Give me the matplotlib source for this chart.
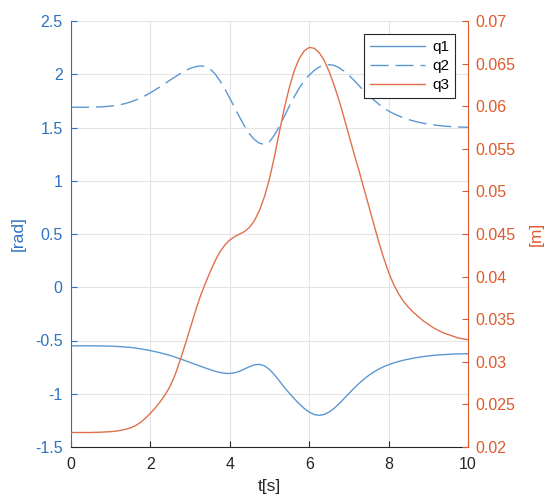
import matplotlib
matplotlib.use("Agg")
import matplotlib.pyplot as plt

t = [0.0, 0.125, 0.25, 0.375, 0.5, 0.625, 0.75, 0.875, 1.0, 1.125, 1.25, 1.375,
     1.5, 1.625, 1.75, 1.875, 2.0, 2.125, 2.25, 2.375, 2.5, 2.625, 2.75, 2.875,
     3.0, 3.125, 3.25, 3.375, 3.5, 3.625, 3.75, 3.875, 4.0, 4.125, 4.25, 4.375,
     4.5, 4.625, 4.75, 4.875, 5.0, 5.125, 5.25, 5.375, 5.5, 5.625, 5.75, 5.875,
     6.0, 6.125, 6.25, 6.375, 6.5, 6.625, 6.75, 6.875, 7.0, 7.125, 7.25, 7.375,
     7.5, 7.625, 7.75, 7.875, 8.0, 8.125, 8.25, 8.375, 8.5, 8.625, 8.75, 8.875,
     9.0, 9.125, 9.25, 9.375, 9.5, 9.625, 9.75, 9.875, 10.0]

q1 = [-0.550, -0.550, -0.550, -0.550, -0.550, -0.551, -0.551, -0.552, -0.553,
      -0.555, -0.558, -0.561, -0.565, -0.571, -0.578, -0.586, -0.595, -0.605,
      -0.616, -0.628, -0.641, -0.656, -0.672, -0.689, -0.706, -0.723, -0.740,
      -0.757, -0.773, -0.788, -0.800, -0.808, -0.810, -0.803, -0.788, -0.767,
      -0.745, -0.728, -0.724, -0.738, -0.772, -0.822, -0.880, -0.940, -0.995,
      -1.047, -1.095, -1.138, -1.172, -1.195, -1.203, -1.195, -1.172, -1.138,
      -1.095, -1.047, -0.998, -0.950, -0.905, -0.864, -0.828, -0.796, -0.769,
      -0.746, -0.727, -0.711, -0.697, -0.685, -0.675, -0.666, -0.658, -0.651,
      -0.645, -0.640, -0.636, -0.633, -0.630, -0.628, -0.626, -0.625, -0.624]

q2 = [1.690, 1.690, 1.690, 1.690, 1.691, 1.692, 1.694, 1.697, 1.701, 1.707,
      1.715, 1.726, 1.740, 1.757, 1.777, 1.800, 1.826, 1.854, 1.884, 1.915,
      1.946, 1.976, 2.005, 2.032, 2.055, 2.070, 2.078, 2.074, 2.050, 2.005,
      1.940, 1.862, 1.775, 1.685, 1.595, 1.510, 1.438, 1.385, 1.352, 1.342,
      1.365, 1.430, 1.510, 1.605, 1.700, 1.790, 1.870, 1.940, 1.992, 2.035,
      2.068, 2.086, 2.090, 2.083, 2.062, 2.030, 1.990, 1.945, 1.895, 1.845,
      1.800, 1.760, 1.720, 1.685, 1.655, 1.630, 1.610, 1.590, 1.575, 1.562,
      1.550, 1.540, 1.532, 1.525, 1.519, 1.514, 1.510, 1.507, 1.505, 1.503, 1.502]

q3 = [0.0217, 0.0217, 0.0217, 0.0217, 0.0217, 0.02172, 0.02174, 0.02177, 0.02180,
      0.02186, 0.02195, 0.02208, 0.02225, 0.02250, 0.02288, 0.02338, 0.02395,
      0.02460, 0.02533, 0.02617, 0.02715, 0.0285, 0.0302, 0.0320, 0.0339, 0.0358,
      0.0376, 0.0391, 0.0405, 0.0418, 0.0429, 0.0437, 0.0443, 0.0447, 0.0450,
      0.0453, 0.0458, 0.0466, 0.0478, 0.0494, 0.0515, 0.0541, 0.0570, 0.0598,
      0.0622, 0.0642, 0.0656, 0.0665, 0.0669, 0.0668, 0.0663, 0.0654, 0.0641,
      0.0625, 0.0607, 0.0587, 0.0566, 0.0545, 0.0525, 0.0504, 0.0483, 0.0462,
      0.0441, 0.0422, 0.0405, 0.0391, 0.0380, 0.0371, 0.0364, 0.0358, 0.0353,
      0.0348, 0.0344, 0.0340, 0.0337, 0.0334, 0.0332, 0.0330, 0.0328, 0.0327,
      0.0326]

labels = ["q1", "q2", "q3"]
xticks = [0, 2, 4, 6, 8, 10]
yticks_left = [-1.5, -1, -0.5, 0, 0.5, 1, 1.5, 2, 2.5]
yticks_right = [0.02, 0.025, 0.03, 0.035, 0.04, 0.045, 0.05, 0.055, 0.06, 0.065, 0.07]

BLUE = "#2f72c0"
ORANGE = "#de5a2c"
BLUE_LINE = "#5b98d2"
ORANGE_LINE = "#e0704c"
plt.rcParams["font.family"] = ["Liberation Sans", "DejaVu Sans"]

fig = plt.figure(figsize=(5.46, 4.96), dpi=100)
ax = fig.add_axes([71/546, 49/496, (468-71)/546, (447-21)/496])
ax2 = ax.twinx()

l1, = ax.plot(t, q1, color=BLUE_LINE, lw=1.0, label=labels[0])
l2, = ax.plot(t, q2, color=BLUE_LINE, lw=1.0, dashes=(13, 5), label=labels[1])
l3, = ax2.plot(t, q3, color=ORANGE_LINE, lw=1.0, label=labels[2])

ax.set_xlim(0, 10)
ax.set_ylim(-1.5, 2.5)
ax2.set_ylim(0.02, 0.07)
ax.set_xticks(xticks)
ax.set_xticklabels([f"{v:g}" for v in xticks])
ax.set_yticks(yticks_left)
ax.set_yticklabels([f"{v:g}" for v in yticks_left])
ax2.set_yticks(yticks_right)
ax2.set_yticklabels([f"{v:g}" for v in yticks_right])

ax.grid(True, color="#e4e4e4", lw=0.8)
ax.set_axisbelow(True)

ax.tick_params(axis="x", direction="in", length=4, labelsize=11.5, colors="#262626", pad=7)
ax.tick_params(axis="y", direction="in", length=4, labelsize=11.5, colors=BLUE, pad=6)
ax2.tick_params(axis="y", direction="in", length=4, labelsize=11.5, colors=ORANGE, pad=5)

for s in ["top", "right"]:
    ax.spines[s].set_visible(False)
ax.spines["left"].set_color(BLUE)
ax.spines["bottom"].set_color("#262626")
for s in ["top", "left", "bottom"]:
    ax2.spines[s].set_visible(False)
ax2.spines["right"].set_color(ORANGE)

ax.set_xlabel("t[s]", fontsize=12.5, color="#262626", labelpad=5)
ax.set_ylabel("[rad]", fontsize=12.5, color=BLUE, labelpad=7)
ax2.set_ylabel("[m]", fontsize=12.5, color=ORANGE, labelpad=10)

leg = ax2.legend([l1, l2, l3], labels, loc="upper right",
                 bbox_to_anchor=(455/546, (496-34)/496), bbox_transform=fig.transFigure,
                 borderaxespad=0, fancybox=False, framealpha=1, edgecolor="#262626",
                 fontsize=11, handlelength=3.6, handletextpad=0.45, labelspacing=0.32,
                 borderpad=0.4)
leg.get_frame().set_linewidth(0.8)

fig.savefig("out.png", dpi=100)
